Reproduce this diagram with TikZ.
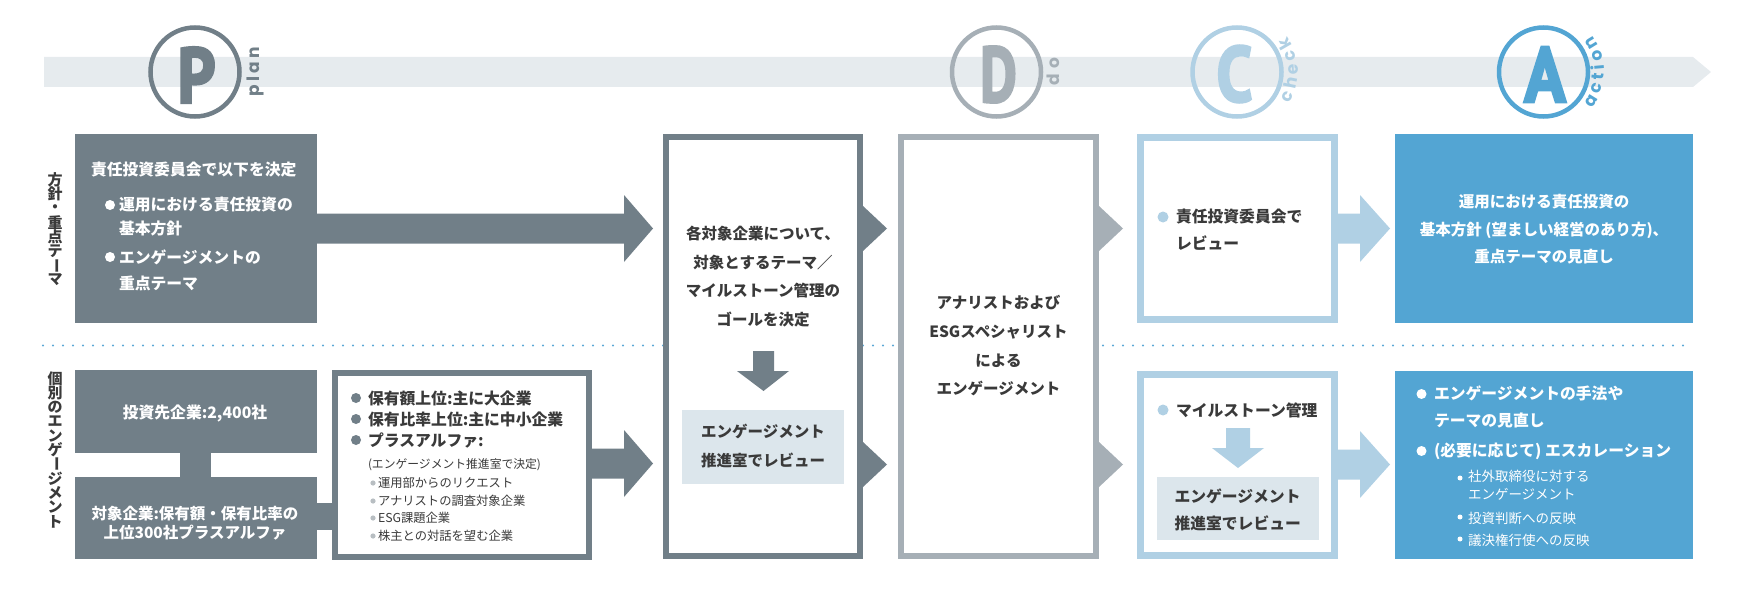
\documentclass[tikz,border=0pt]{standalone}
\usepackage{fontspec}
\usepackage{graphicx}
\usetikzlibrary{decorations.text}
\newfontfamily\jp{Noto Sans CJK JP}
\newfontfamily\pdcafont[BoldFeatures={FakeBold=3.5}]{PT Sans}
\newfontfamily\labfont{Poppins}
\definecolor{cP}{HTML}{717F88}
\definecolor{cD}{HTML}{A6AFB6}
\definecolor{cC}{HTML}{B0D0E4}
\definecolor{cA}{HTML}{53A5D3}
\definecolor{bandc}{HTML}{E6EBEE}
\definecolor{revc}{HTML}{DCE6EC}
\definecolor{txt}{HTML}{3A3A3A}
\definecolor{dotc}{HTML}{5AA8D6}
\definecolor{subc}{HTML}{B8BEC2}
\newcommand\tc[1]{\hbox to 16pt{\hss\vbox to 14.3pt{\vss\hbox{#1}\vss}\hss}}
\newcommand\vbar{\rotatebox[origin=c]{-90}{ー}}
\newcommand\barrow[5]{\fill[#1] (#2,#5-15) -- (#3,#5-15) -- (#3,#5-33.5) -- (#4,#5) -- (#3,#5+33.5) -- (#3,#5+15) -- (#2,#5+15) -- cycle;}
\begin{document}
\begin{tikzpicture}[x=1pt,y=-1pt,
  box/.style={rectangle, inner sep=0pt, outer sep=0pt},
  tl/.style={inner sep=0pt, outer sep=0pt, anchor=west},
  jb/.style={font=\jp\bfseries\fontsize{15.8}{18}\selectfont},
  jr/.style={font=\jp\fontsize{12.3}{15}\selectfont},
  jrs/.style={font=\jp\fontsize{13.5}{16}\selectfont},
  big/.style={font=\pdcafont\bfseries\fontsize{78}{78}\selectfont, inner sep=0pt},
  ring/.style={circle, line width=4.5pt, minimum size=89pt, inner sep=0pt},
]
\useasboundingbox (0,0) rectangle (1753,591);
% band
\fill[bandc] (44,57) -- (1693,57) -- (1711,72) -- (1693,87) -- (44,87) -- cycle;
% rings and letters
\node[ring, draw=cP] (rp) at (195,72) {};
\node[big, text=cP] (lp) at (196.5,75) {\scalebox{0.85}[1]{P}};
\node[ring, draw=cD] (rd) at (996.5,72) {};
\node[big, text=cD] (ld) at (998.5,74.5) {\scalebox{0.72}[1]{D}};
\node[ring, draw=cC] (rc) at (1237,72) {};
\node[big, text=cC] (lc) at (1234.5,74) {\scalebox{0.82}[1]{C}};
\node[ring, draw=cA] (ra) at (1543.5,72) {};
\node[big, text=cA] (la) at (1545,74.5) {\scalebox{0.88}[1]{A}};
\path[decorate, decoration={text along path, text align={fit to path}, text color=cP,
  text={|\labfont\bfseries\fontsize{17}{17}\selectfont|plan}}] (259,97) -- (259,47);
\path[decorate, decoration={text along path, text align={fit to path}, text color=cD,
  text={|\labfont\bfseries\fontsize{17}{17}\selectfont|do}}] (1059,86) -- (1059,58);
\path[decorate, decoration={text along path, text align={fit to path}, text color=cC,
  text={|\labfont\bfseries\fontsize{17}{17}\selectfont|check}}] (1237,72) ++(30.5:61) arc[start angle=30.5, end angle=-35, radius=61];
\path[decorate, decoration={text along path, text align={fit to path}, text color=cA,
  text={|\labfont\bfseries\fontsize{17}{17}\selectfont|action}}] (1543.5,72) ++(37:60.5) arc[start angle=37, end angle=-37, radius=60.5];
% dotted separator
\coordinate (dl) at (43,345.5);
\coordinate (dr) at (1693,345.5);
\draw[dotc, line width=2.3pt, line cap=round, dash pattern=on 0pt off 10pt] (dl) -- (dr);
% side labels
\node[inner sep=0pt, text=txt, font=\jp\bfseries\fontsize{15}{15}\selectfont] (s1) at (55,230)
  {\vbox{\offinterlineskip\tc{方}\tc{針}\tc{・}\tc{重}\tc{点}\tc{テ}\tc{\vbar}\tc{マ}}};
\node[inner sep=0pt, text=txt, font=\jp\bfseries\fontsize{15}{15}\selectfont] (s2) at (55,450)
  {\vbox{\offinterlineskip\tc{個}\tc{別}\tc{の}\tc{エ}\tc{ン}\tc{ゲ}\tc{\vbar}\tc{ジ}\tc{メ}\tc{ン}\tc{ト}}};
% plan boxes
\node[box, fill=cP, minimum width=242pt, minimum height=189pt] (b1) at (196,228.5) {};
\node[box, fill=cP, minimum width=242pt, minimum height=83pt] (b2) at (196,411.5) {};
\node[box, fill=cP, minimum width=31pt, minimum height=26pt] (bar) at (195.5,465) {};
\node[box, fill=cP, minimum width=242pt, minimum height=82pt] (b3) at (196,518) {};
\node[box, fill=cP, minimum width=17pt, minimum height=27pt] (conn) at (324.5,516.5) {};
\node[box, draw=cP, line width=6pt, fill=white, minimum width=254pt, minimum height=184pt] (w) at (462,465) {};
% do boxes
\node[box, draw=cP, line width=6pt, fill=white, minimum width=194pt, minimum height=419pt] (t1) at (763,346.5) {};
\node[box, draw=cD, line width=6pt, fill=white, minimum width=195pt, minimum height=419pt] (t2) at (998.5,346.5) {};
\node[box, fill=revc, minimum width=162pt, minimum height=74pt] (r1) at (763,447) {};
% check boxes
\node[box, draw=cC, line width=7pt, fill=white, minimum width=194pt, minimum height=182pt] (c1) at (1237.5,228.5) {};
\node[box, draw=cC, line width=7pt, fill=white, minimum width=194pt, minimum height=181pt] (c2) at (1237.5,465) {};
\node[box, fill=revc, minimum width=162pt, minimum height=63pt] (r2) at (1238,508.5) {};
% action boxes
\node[box, fill=cA, minimum width=298pt, minimum height=189pt] (a1) at (1544,228.5) {};
\node[box, fill=cA, minimum width=298pt, minimum height=188pt] (a2) at (1544,465) {};
% block arrows
\barrow{cP}{317}{624}{653}{228.5}
\barrow{cP}{592}{624}{653}{463.5}
\fill[cP] (863,206) -- (887,228.5) -- (863,251) -- cycle;
\fill[cP] (863,442) -- (887,464.5) -- (863,487) -- cycle;
\fill[cD] (1099,206) -- (1123,228.5) -- (1099,251) -- cycle;
\fill[cD] (1099,442) -- (1123,464.5) -- (1099,487) -- cycle;
\barrow{cC}{1338}{1360}{1390}{228.5}
\barrow{cC}{1338}{1360}{1390}{464.5}
\fill[cP] (753,351) -- (774,351) -- (774,371) -- (789,371) -- (763.5,391) -- (737,371) -- (753,371) -- cycle;
\fill[cC] (1226,428) -- (1250,428) -- (1250,448) -- (1264,448) -- (1238,468) -- (1212,448) -- (1226,448) -- cycle;
% b1 text
\node[tl, jb, text=white] (b1t1) at (91,170) {責任投資委員会で以下を決定};
\fill[white] (110,205) circle (5pt);
\node[tl, jb, text=white] (b1t2) at (119,205) {運用における責任投資の};
\node[tl, jb, text=white] (b1t3) at (119,229) {基本方針};
\fill[white] (110,257) circle (5pt);
\node[tl, jb, text=white] (b1t4) at (119,257) {エンゲージメントの};
\node[tl, jb, text=white] (b1t5) at (119,283) {重点テーマ};
% b2, b3 text
\node[inner sep=0pt, jb, text=white] (b2t) at (195,413) {投資先企業:2,400社};
\node[inner sep=0pt, align=center, text=white, font=\jp\bfseries\fontsize{15.5}{19}\selectfont] (b3t) at (195,523.5) {対象企業:保有額・保有比率の\\上位300社プラスアルファ};
% w text
\fill[cP] (356,398) circle (5pt);
\fill[cP] (356,419) circle (5pt);
\fill[cP] (356,440) circle (5pt);
\node[tl, jb, text=txt] (wt1) at (368,398) {保有額上位:主に大企業};
\node[tl, jb, text=txt] (wt2) at (368,419) {保有比率上位:主に中小企業};
\node[tl, jb, text=txt] (wt3) at (368,440) {プラスアルファ:};
\node[tl, font=\jp\fontsize{11.8}{15}\selectfont, text=txt] (wt4) at (368,465) {(エンゲージメント推進室で決定)};
\fill[subc] (373,483) circle (2.6pt);
\fill[subc] (373,501) circle (2.6pt);
\fill[subc] (373,518) circle (2.6pt);
\fill[subc] (373,536) circle (2.6pt);
\node[tl, jr, text=txt] (wt5) at (378,483) {運用部からのリクエスト};
\node[tl, jr, text=txt] (wt6) at (378,501) {アナリストの調査対象企業};
\node[tl, jr, text=txt] (wt7) at (378,518) {ESG課題企業};
\node[tl, jr, text=txt] (wt8) at (378,536) {株主との対話を望む企業};
% t1, r1, t2 text
\node[inner sep=0pt, align=center, text=txt, font=\jp\bfseries\fontsize{15.5}{28.7}\selectfont] (t1t) at (763,276.5)
  {各対象企業について、\\対象とするテーマ／\\マイルストーン管理の\\ゴールを決定};
\node[inner sep=0pt, align=center, text=txt, font=\jp\bfseries\fontsize{15.5}{29}\selectfont] (r1t) at (763,446.5)
  {エンゲージメント\\推進室でレビュー};
\node[inner sep=0pt, align=center, text=txt, font=\jp\bfseries\fontsize{15.5}{28.7}\selectfont] (t2t) at (998.5,346)
  {アナリストおよび\\ESGスペシャリスト\\による\\エンゲージメント};
% c1, c2, r2 text
\fill[cC] (1163,217) circle (5.5pt);
\node[tl, jb, text=txt] (c1t1) at (1176,217) {責任投資委員会で};
\node[tl, jb, text=txt] (c1t2) at (1176,243) {レビュー};
\fill[cC] (1163,410) circle (5.5pt);
\node[tl, jb, text=txt] (c2t) at (1176,410) {マイルストーン管理};
\node[tl, jb, text=txt] (r2t1) at (1174.5,496) {エンゲージメント};
\node[tl, jb, text=txt] (r2t2) at (1174.5,523) {推進室でレビュー};
% a1, a2 text
\node[inner sep=0pt, align=center, text=white, font=\jp\bfseries\fontsize{15.5}{27.5}\selectfont] (a1t) at (1544,229.5)
  {運用における責任投資の\\基本方針 (望ましい経営のあり方)、\\重点テーマの見直し};
\fill[white] (1421.5,394) circle (5pt);
\fill[white] (1421.5,451) circle (5pt);
\node[tl, jb, text=white] (a2t1) at (1434,393) {エンゲージメントの手法や};
\node[tl, jb, text=white] (a2t2) at (1434,421) {テーマの見直し};
\node[tl, jb, text=white] (a2t3) at (1434,451) {(必要に応じて) エスカレーション};
\fill[white] (1460,478) circle (2.5pt);
\fill[white] (1460,517) circle (2.5pt);
\fill[white] (1460,539) circle (2.5pt);
\node[tl, jrs, text=white] (a2t4) at (1468,476) {社外取締役に対する};
\node[tl, jrs, text=white] (a2t5) at (1468,494.5) {エンゲージメント};
\node[tl, jrs, text=white] (a2t6) at (1468,518) {投資判断への反映};
\node[tl, jrs, text=white] (a2t7) at (1468,540) {議決権行使への反映};
\end{tikzpicture}
\end{document}
